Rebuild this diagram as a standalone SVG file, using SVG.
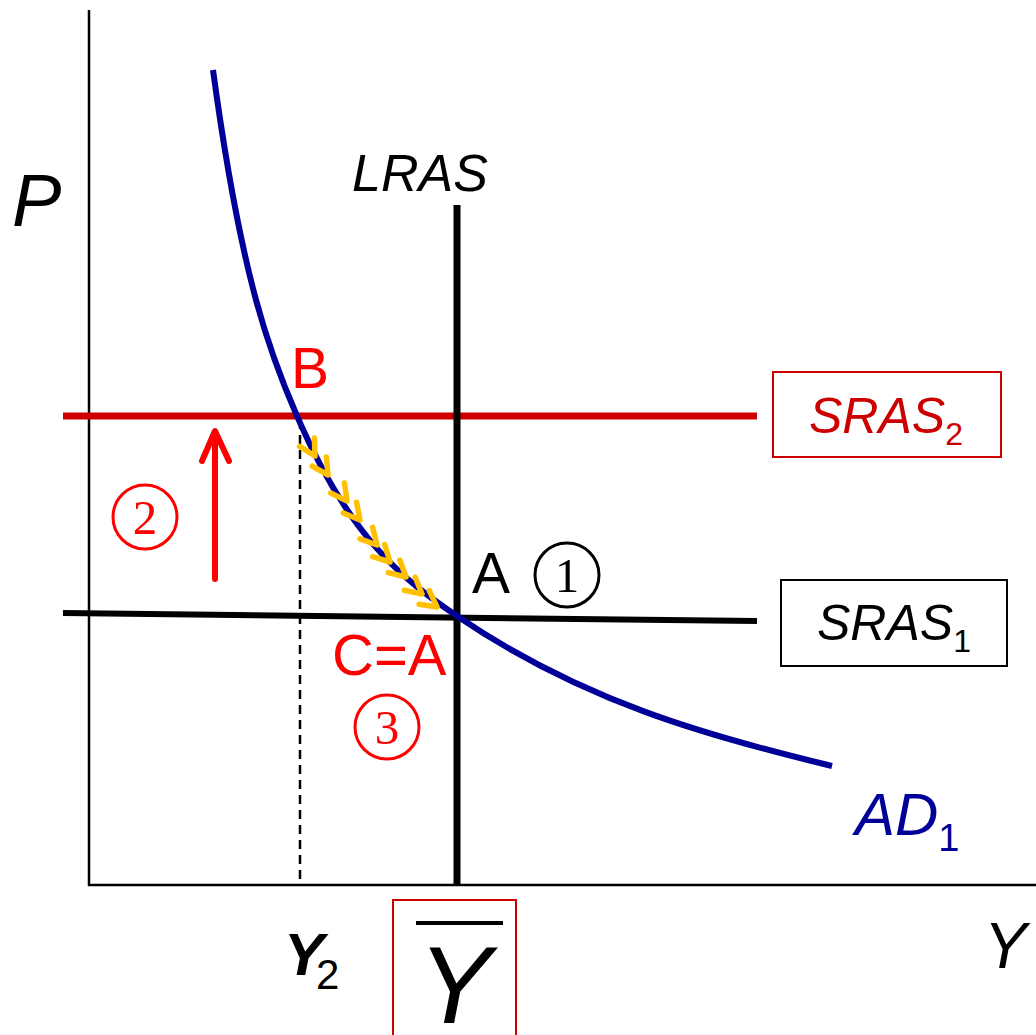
<svg xmlns="http://www.w3.org/2000/svg" width="1036" height="1035" viewBox="0 0 1036 1035">
<style>
.sans{font-family:"Liberation Sans",Arial,sans-serif}
.serif{font-family:"Liberation Serif","Times New Roman",serif}
.it{font-style:italic}
.axis{stroke:#000;stroke-width:2.5;fill:none}
.chev{fill:none;stroke:#ffc000;stroke-width:5.5;stroke-linecap:round;stroke-linejoin:round}
</style>
<defs>
<path id="chev" class="chev" d="M-16,-8.5 L0,0 L-16,8.5"/>
</defs>
<rect width="1036" height="1035" fill="#fff"/>
<g id="axes">
<line class="axis" x1="89" y1="10" x2="89" y2="886"/>
<line class="axis" x1="88" y1="885" x2="1036" y2="885"/>
<text class="sans it" x="12" y="226" font-size="74">P</text>
<text class="sans it" x="984" y="968" font-size="64">Y</text>
</g>
<g id="connectors">
<line id="dashed-y2" x1="300" y1="420" x2="300" y2="885" stroke="#000" stroke-width="2.5" stroke-dasharray="9,6"/>
<line id="sras2-line" x1="63" y1="416" x2="757" y2="416" stroke="#cc0000" stroke-width="7"/>
<line id="sras1-line" x1="63" y1="613" x2="757" y2="621" stroke="#000" stroke-width="6"/>
<line id="lras-line" x1="457" y1="205" x2="457" y2="885" stroke="#000" stroke-width="7"/>
<path id="ad1-curve" d="M213,70 C241,276 269,352 297,416 C350,539 404,580 457,616 C582,701 707,736 832,766" fill="none" stroke="#000099" stroke-width="6"/>
<g id="chevrons">
<use href="#chev" transform="translate(315,456) rotate(60)"/>
<use href="#chev" transform="translate(328,475) rotate(57)"/>
<use href="#chev" transform="translate(347,501) rotate(54)"/>
<use href="#chev" transform="translate(360,520) rotate(51)"/>
<use href="#chev" transform="translate(377,545) rotate(48)"/>
<use href="#chev" transform="translate(390,562) rotate(45)"/>
<use href="#chev" transform="translate(406,577) rotate(42)"/>
<use href="#chev" transform="translate(422,594) rotate(40)"/>
<use href="#chev" transform="translate(437,607) rotate(37)"/>
</g>
<g id="red-arrow" stroke="#ff0000" stroke-width="6" fill="none" stroke-linecap="round" stroke-linejoin="round">
<line x1="215" y1="579" x2="215" y2="432"/>
<path d="M202,461 L215,431 L229,461"/>
</g>
</g>
<g id="lras-label">
<text class="sans it" x="352" y="191" font-size="52">LRAS</text>
</g>
<g id="sras2-label">
<rect x="773" y="372" width="228" height="85" fill="none" stroke="#cc0000" stroke-width="2"/>
<text class="sans it" x="809" y="433" font-size="50" fill="#cc0000">SRAS<tspan font-style="normal" font-size="32" dy="12">2</tspan></text>
</g>
<g id="sras1-label">
<rect x="781" y="580" width="226" height="86" fill="none" stroke="#000" stroke-width="2"/>
<text class="sans it" x="817" y="640" font-size="50" fill="#000">SRAS<tspan font-style="normal" font-size="32" dy="12">1</tspan></text>
</g>
<g id="ad1-label">
<text class="sans it" x="855" y="835" font-size="60" fill="#000099">AD<tspan font-style="normal" font-size="38" dy="16">1</tspan></text>
</g>
<g id="point-b">
<text class="sans" x="291" y="388" font-size="57" fill="#ff0000">B</text>
</g>
<g id="point-a">
<text class="sans" x="472" y="593" font-size="57" fill="#000">A</text>
<circle cx="567" cy="575" r="32" fill="none" stroke="#000" stroke-width="3"/>
<text class="serif" x="567" y="592" font-size="49" text-anchor="middle" fill="#000">1</text>
</g>
<g id="step-2">
<circle cx="145" cy="517" r="32" fill="none" stroke="#ff0000" stroke-width="3"/>
<text class="serif" x="145" y="534" font-size="49" text-anchor="middle" fill="#ff0000">2</text>
</g>
<g id="point-c">
<text class="sans" x="332" y="675" font-size="58" fill="#ff0000">C=A</text>
<circle cx="387" cy="727" r="32" fill="none" stroke="#ff0000" stroke-width="3"/>
<text class="serif" x="387" y="744" font-size="49" text-anchor="middle" fill="#ff0000">3</text>
</g>
<g id="y2-label">
<text class="sans it" x="284" y="975" font-size="60" font-weight="bold" fill="#000">Y<tspan font-style="normal" font-weight="normal" font-size="42" dx="-8" dy="14">2</tspan></text>
</g>
<g id="ybar-label">
<rect x="393" y="900" width="123" height="140" fill="none" stroke="#cc0000" stroke-width="2"/>
<line x1="416" y1="923" x2="503" y2="923" stroke="#000" stroke-width="4"/>
<text class="sans it" x="418" y="1023" font-size="110" fill="#000">Y</text>
</g>
</svg>
